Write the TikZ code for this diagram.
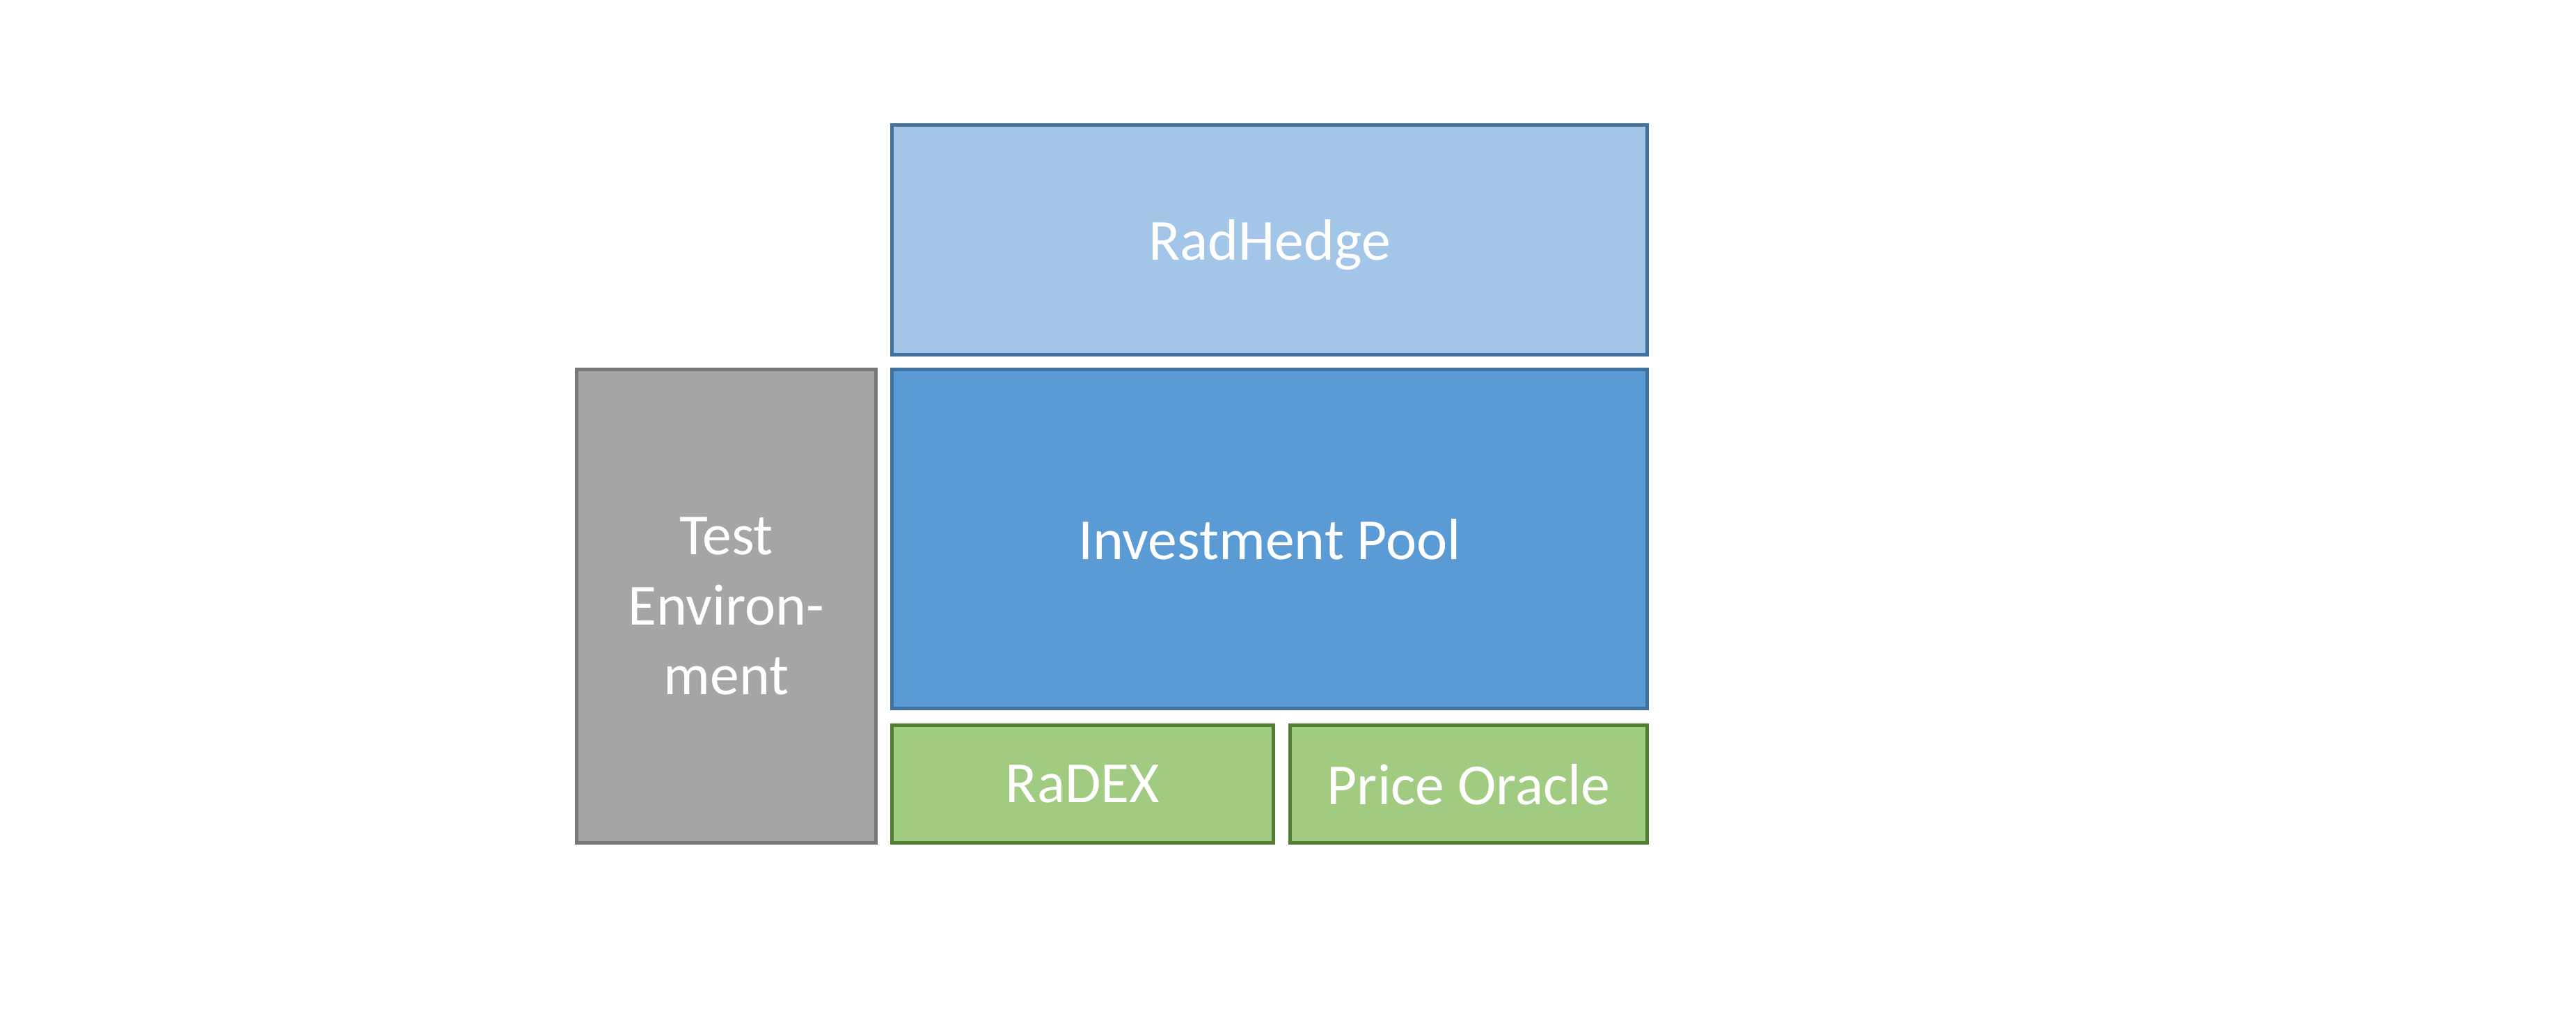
\documentclass[tikz,border=0pt]{standalone}
\usepackage{tikz}
\usepackage{xcolor}
\usepackage{fontspec}
\setmainfont{Carlito}

\definecolor{hedgefill}{HTML}{A3C6E8}
\definecolor{poolfill}{HTML}{5B9BD5}
\definecolor{bluedraw}{HTML}{41719C}
\definecolor{testfill}{HTML}{A5A5A5}
\definecolor{testdraw}{HTML}{787878}
\definecolor{greenfill}{HTML}{A1CB81}
\definecolor{greendraw}{HTML}{507E32}

\tikzset{
	block/.style={rectangle, inner sep={0pt}, outer sep={0pt}, line width={0.05cm}, text=white, align=center,
		text depth={0pt}, font={\fontsize{23.8pt}{28.6pt}\selectfont}},
	bluebox/.style={block, draw=bluedraw},
	greybox/.style={block, draw=testdraw, fill=testfill},
	greenbox/.style={block, draw=greendraw, fill=greenfill}
}

\begin{document}
\begin{tikzpicture}
				\useasboundingbox[fill=white] ( 0.0000000,  0.0000000) rectangle ( 37.0100000, -14.6200000);
				
				\node[bluebox, fill=hedgefill, minimum width={10.85cm}, minimum height={3.30cm}] (radhedge)
					at ( 18.2400000, -3.4450000) {RadHedge};
				
				\node[bluebox, fill=poolfill, minimum width={10.85cm}, minimum height={4.87cm}] (pool)
					at ( 18.2400000, -7.7400000) {Investment Pool};
				
				\node[greybox, minimum width={4.30cm}, minimum height={6.80cm}] (testenv)
					at ( 10.4350000, -8.7050000) {Test\\Environ-\\ment};
				
				\node[greenbox, minimum width={5.48cm}, minimum height={1.69cm}] (radex)
					at ( 15.5550000, -11.2600000) {RaDEX};
				
				\node[greenbox, minimum width={5.13cm}, minimum height={1.69cm}] (oracle)
					at ( 21.1000000, -11.2600000) {Price Oracle};
				
			\end{tikzpicture}
\end{document}
